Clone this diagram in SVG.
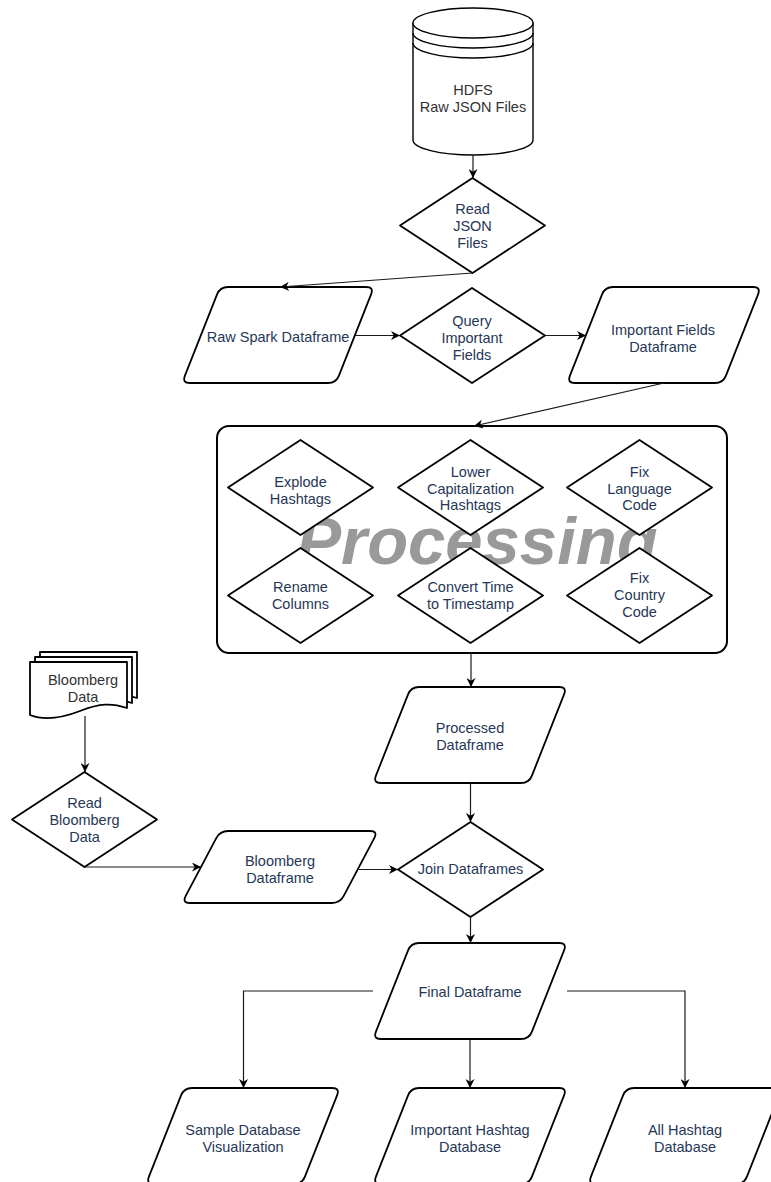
<svg xmlns="http://www.w3.org/2000/svg" width="771" height="1182" viewBox="0 0 771 1182">
<style>
.shape{fill:#ffffff;stroke:#000000;stroke-width:1.8;stroke-linejoin:round}
.thin{fill:none;stroke:#000000;stroke-width:1.4}
.lbl{font-family:"Liberation Sans",Arial,Helvetica,sans-serif;font-size:14.5px;fill:#263756;text-anchor:middle}
.dark{fill:#333333}
.edge{fill:none;stroke:#1a1a1a;stroke-width:1.2}
.big{font-family:"Liberation Sans",Arial,Helvetica,sans-serif;font-size:67px;font-weight:bold;font-style:italic;fill:#999999;text-anchor:middle}
</style>
<defs>
<marker id="arr" viewBox="0 0 10 10" markerWidth="9" markerHeight="9" refX="10" refY="5" orient="auto" markerUnits="userSpaceOnUse">
<path d="M0,0 L10,5 L0,10 L3,5 Z" fill="#000000"/>
</marker>
</defs>
<rect width="771" height="1182" fill="#ffffff"/>

<g id="processing">
<rect class="shape" x="217" y="426" width="510" height="227" rx="12" ry="12" style="stroke-width:2"/>
<text class="big" x="477" y="564">Processing</text>
</g>

<g id="hdfs">
<path class="shape" d="M413,23 L413,140 A60,15 0 0 0 533,140 L533,23 Z" style="stroke-width:1.4"/>
<ellipse class="shape" cx="473" cy="23" rx="60" ry="15" style="stroke-width:1.4"/>
<path class="thin" d="M413,33 A60,15 0 0 0 533,33 M413,43 A60,15 0 0 0 533,43"/>
<text class="lbl dark" x="473" y="95">HDFS</text>
<text class="lbl dark" x="473" y="112">Raw JSON Files</text>
</g>

<g id="read-json">
<polygon class="shape" points="472.5,178 545,225.5 472.5,273 400,225.5"/>
<text class="lbl" x="472.5" y="214">Read</text>
<text class="lbl" x="472.5" y="231">JSON</text>
<text class="lbl" x="472.5" y="248">Files</text>
</g>

<g id="raw-spark">
<path class="shape" d="M228,287 L366,287 Q374,287 371.06,294.44 L338.94,375.56 Q336,383 328,383 L190,383 Q182,383 184.94,375.56 L217.06,294.44 Q220,287 228,287 Z"/>
<text class="lbl" x="278" y="342">Raw Spark Dataframe</text>
</g>

<g id="query">
<polygon class="shape" points="472,288 545,335.5 472,383 400,335.5"/>
<text class="lbl" x="472" y="325.5">Query</text>
<text class="lbl" x="472" y="342.5">Important</text>
<text class="lbl" x="472" y="359.5">Fields</text>
</g>

<g id="important-fields">
<path class="shape" d="M613,287 L753,287 Q761,287 758.06,294.44 L725.94,375.56 Q723,383 715,383 L575,383 Q567,383 569.94,375.56 L602.06,294.44 Q605,287 613,287 Z"/>
<text class="lbl" x="663" y="335">Important Fields</text>
<text class="lbl" x="663" y="352">Dataframe</text>
</g>

<g id="explode">
<polygon class="shape" points="300.5,440 373,487.5 300.5,535 228,487.5"/>
<text class="lbl" x="300.5" y="487">Explode</text>
<text class="lbl" x="300.5" y="503.5">Hashtags</text>
</g>

<g id="lower-cap">
<polygon class="shape" points="470.5,440 543,487.5 470.5,535 398,487.5"/>
<text class="lbl" x="470.5" y="477">Lower</text>
<text class="lbl" x="470.5" y="493.5">Capitalization</text>
<text class="lbl" x="470.5" y="510">Hashtags</text>
</g>

<g id="fix-language">
<polygon class="shape" points="639.5,440 712,487.5 639.5,535 567,487.5"/>
<text class="lbl" x="639.5" y="477">Fix</text>
<text class="lbl" x="639.5" y="493.5">Language</text>
<text class="lbl" x="639.5" y="510">Code</text>
</g>

<g id="rename">
<polygon class="shape" points="300.5,548 373,595.5 300.5,643 228,595.5"/>
<text class="lbl" x="300.5" y="592">Rename</text>
<text class="lbl" x="300.5" y="608.5">Columns</text>
</g>

<g id="convert-time">
<polygon class="shape" points="470.5,548 543,595.5 470.5,643 398,595.5"/>
<text class="lbl" x="470.5" y="592">Convert Time</text>
<text class="lbl" x="470.5" y="608.5">to Timestamp</text>
</g>

<g id="fix-country">
<polygon class="shape" points="639.5,548 712,595.5 639.5,643 567,595.5"/>
<text class="lbl" x="639.5" y="582.5">Fix</text>
<text class="lbl" x="639.5" y="599.5">Country</text>
<text class="lbl" x="639.5" y="616.5">Code</text>
</g>

<g id="bloomberg-data">
<path class="shape" transform="translate(10,-10)" d="M30,662 H127 V708 C112,703 100,703 80,711 C62,718 45,721 30,715 Z"/>
<path class="shape" transform="translate(5,-5)" d="M30,662 H127 V708 C112,703 100,703 80,711 C62,718 45,721 30,715 Z"/>
<path class="shape" d="M30,662 H127 V708 C112,703 100,703 80,711 C62,718 45,721 30,715 Z"/>
<text class="lbl dark" x="83" y="685">Bloomberg</text>
<text class="lbl dark" x="83" y="702">Data</text>
</g>

<g id="read-bloomberg">
<polygon class="shape" points="84.5,772 157,819.5 84.5,867 12,819.5"/>
<text class="lbl" x="84.5" y="808">Read</text>
<text class="lbl" x="84.5" y="825">Bloomberg</text>
<text class="lbl" x="84.5" y="842">Data</text>
</g>

<g id="bloomberg-df">
<path class="shape" d="M228,831 L370,831 Q378,831 374.27,838.08 L343.73,895.92 Q340,903 332,903 L190,903 Q182,903 185.73,895.92 L216.27,838.08 Q220,831 228,831 Z"/>
<text class="lbl" x="280" y="865.5">Bloomberg</text>
<text class="lbl" x="280" y="882.5">Dataframe</text>
</g>

<g id="processed-df">
<path class="shape" d="M419,687 L559,687 Q567,687 564.06,694.44 L531.94,775.56 Q529,783 521,783 L381,783 Q373,783 375.94,775.56 L408.06,694.44 Q411,687 419,687 Z"/>
<text class="lbl" x="470" y="733">Processed</text>
<text class="lbl" x="470" y="750">Dataframe</text>
</g>

<g id="join">
<polygon class="shape" points="470.5,822 543,869.5 470.5,917 398,869.5"/>
<text class="lbl" x="470.5" y="873.5">Join Dataframes</text>
</g>

<g id="final-df">
<path class="shape" d="M419,943 L559,943 Q567,943 564.06,950.44 L531.94,1031.56 Q529,1039 521,1039 L381,1039 Q373,1039 375.94,1031.56 L408.06,950.44 Q411,943 419,943 Z"/>
<text class="lbl" x="470" y="997">Final Dataframe</text>
</g>

<g id="sample-db">
<path class="shape" d="M192,1088 L332,1088 Q340,1088 337.06,1095.44 L304.94,1176.56 Q302,1184 294,1184 L154,1184 Q146,1184 148.94,1176.56 L181.06,1095.44 Q184,1088 192,1088 Z"/>
<text class="lbl" x="243" y="1134.5">Sample Database</text>
<text class="lbl" x="243" y="1151.5">Visualization</text>
</g>

<g id="important-hashtag-db">
<path class="shape" d="M419,1088 L559,1088 Q567,1088 564.06,1095.44 L531.94,1176.56 Q529,1184 521,1184 L381,1184 Q373,1184 375.94,1176.56 L408.06,1095.44 Q411,1088 419,1088 Z"/>
<text class="lbl" x="470" y="1134.5">Important Hashtag</text>
<text class="lbl" x="470" y="1151.5">Database</text>
</g>

<g id="all-hashtag-db">
<path class="shape" d="M634,1088 L774,1088 Q782,1088 779.06,1095.44 L746.94,1176.56 Q744,1184 736,1184 L596,1184 Q588,1184 590.94,1176.56 L623.06,1095.44 Q626,1088 634,1088 Z"/>
<text class="lbl" x="685" y="1134.5">All Hashtag</text>
<text class="lbl" x="685" y="1151.5">Database</text>
</g>

<g id="connectors">
<path class="edge" marker-end="url(#arr)" d="M473,155 L473,178"/>
<path class="edge" marker-end="url(#arr)" d="M472.5,273 L280,287"/>
<path class="edge" marker-end="url(#arr)" d="M355,335.5 L400,335.5"/>
<path class="edge" marker-end="url(#arr)" d="M545,335.5 L586,335.5"/>
<path class="edge" marker-end="url(#arr)" d="M664,383 L474,426"/>
<path class="edge" marker-end="url(#arr)" d="M471,653 L471,687"/>
<path class="edge" marker-end="url(#arr)" d="M470.5,783 L470.5,822"/>
<path class="edge" marker-end="url(#arr)" d="M85,716 L85,772"/>
<path class="edge" marker-end="url(#arr)" d="M84.5,867 L201,867"/>
<path class="edge" marker-end="url(#arr)" d="M359,869.5 L398,869.5"/>
<path class="edge" marker-end="url(#arr)" d="M470.5,917 L470.5,943"/>
<path class="edge" marker-end="url(#arr)" d="M373,991 L243.5,991 L243.5,1088"/>
<path class="edge" marker-end="url(#arr)" d="M470,1039 L470,1088"/>
<path class="edge" marker-end="url(#arr)" d="M567,991 L685,991 L685,1088"/>
</g>
</svg>
